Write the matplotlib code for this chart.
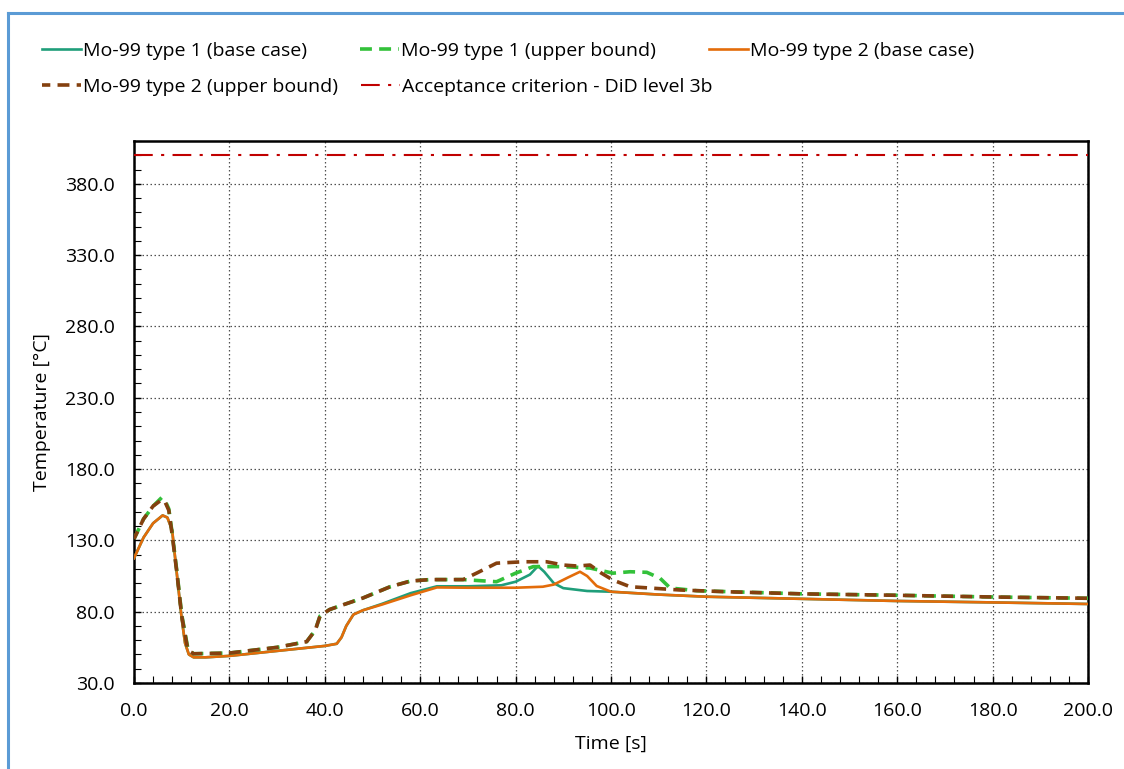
import numpy as np
import matplotlib.pyplot as plt
from matplotlib.lines import Line2D
from matplotlib.ticker import MultipleLocator, FormatStrFormatter

plt.rcParams['font.family'] = ['Open Sans', 'DejaVu Sans']

#%% Data
t_t1_base = [0, 2, 4, 6, 7, 8, 9, 10, 10.7, 11.5, 12.5, 15, 20, 30, 40, 42.5, 43.5, 44.5, 46, 48,
             52, 58, 63.5, 70, 77, 80, 83, 84.7, 86, 88, 90, 95, 100, 110, 120, 140, 160, 180, 200]
T_t1_base = [117.5, 132, 142, 147.5, 146, 137, 106, 75, 58, 50, 48, 48, 49, 52.5, 56, 57.5, 62, 70, 78, 81,
             85.5, 93, 97.8, 97.8, 98.5, 101, 106, 112, 108, 100, 96.5, 94.5, 94, 92, 90.5, 89, 87.5, 86.5, 85.4]

t_t2_base = [0, 2, 4, 6, 7, 8, 9, 10, 10.7, 11.5, 12.5, 15, 20, 30, 40, 42.5, 43.5, 44.5, 46, 48,
             52, 58, 63.5, 70, 80, 85.7, 88, 91, 93.5, 95, 97, 100, 110, 120, 140, 160, 180, 200]
T_t2_base = [117.5, 132, 142, 147.5, 146, 137, 106, 75, 58, 50, 48, 48, 49, 52.5, 56, 57.5, 62, 70, 78, 81,
             85, 91.5, 97, 96.8, 96.8, 97.5, 99, 104, 108, 105, 98, 94, 92, 90.5, 89, 87.5, 86.5, 85.4]

t_t1_upper = [0, 2, 4, 5.8, 6.5, 7.3, 8, 9, 10, 11.3, 12.5, 20, 30, 36.2, 38, 39, 41, 44, 48, 53.7, 58,
              62, 69, 76, 80, 83.7, 90, 95.6, 100.4, 104, 107.5, 110.3, 112.4, 118, 140, 160, 180, 200]
T_t1_upper = [131, 145, 154, 160, 158, 152, 135, 108, 78, 54, 50.5, 51, 55, 59, 67, 77, 81.5, 85, 89.6, 97.5, 101.5,
              102.5, 102.5, 101, 107, 111.6, 111.6, 110.6, 107, 108, 107.6, 103.4, 96.6, 94.7, 92.5, 91.5, 90.3, 89.4]

t_t2_upper = [0, 2, 4, 5.8, 6.5, 7.3, 8, 9, 10, 11.3, 12.5, 20, 30, 36.2, 38, 39, 41, 44, 48, 53.7, 58,
              62, 69, 71.8, 76, 81.6, 86.5, 90, 93, 95.6, 98, 100.4, 104, 114.5, 124, 140, 160, 180, 200]
T_t2_upper = [131, 145, 154, 158.5, 157, 151, 134, 107, 77, 53, 50.5, 51, 55, 59, 67, 77, 81.5, 85, 89.6, 97.5, 101.5,
              102.5, 102.5, 107, 114, 115, 115, 112.7, 112, 112.7, 107, 102.2, 97.5, 95.2, 94, 92.5, 91.5, 90.3, 89.4]

acceptance = 400.0

labels = ['Mo-99 type 1 (base case)', 'Mo-99 type 1 (upper bound)', 'Mo-99 type 2 (base case)',
          'Mo-99 type 2 (upper bound)', 'Acceptance criterion - DiD level 3b']

#%% Plot
c_teal = '#1f9e7a'
c_green = '#33c13a'
c_orange = '#e36c0a'
c_brown = '#84400f'
c_red = '#c00000'
fs = 14

fig = plt.figure(figsize=(11.24, 7.69), dpi=100)
ax = fig.add_axes([134/1124, 1 - 683/769, (1088 - 134)/1124, (683 - 141)/769])

l1, = ax.plot(t_t1_base, T_t1_base, color=c_teal, lw=1.9, zorder=3)
l2, = ax.plot(t_t1_upper, T_t1_upper, color=c_green, lw=2.6, linestyle=(0, (3.3, 2.0)), zorder=4)
l3, = ax.plot(t_t2_base, T_t2_base, color=c_orange, lw=1.9, zorder=3.5)
l4, = ax.plot(t_t2_upper, T_t2_upper, color=c_brown, lw=2.6, linestyle=(1.0, (3.3, 2.0)), zorder=5)
l5 = ax.axhline(acceptance, color=c_red, lw=1.5, linestyle=(0, (9, 4, 1.5, 4)), zorder=5)

ax.set_xlim(0, 200)
ax.set_ylim(30, 410)
ax.xaxis.set_major_locator(MultipleLocator(20))
ax.xaxis.set_minor_locator(MultipleLocator(4))
ax.yaxis.set_minor_locator(MultipleLocator(10))
ax.xaxis.set_major_formatter(FormatStrFormatter('%.1f'))
ax.yaxis.set_major_formatter(FormatStrFormatter('%.1f'))
ax.set_yticks(np.arange(30, 381, 50))

ax.tick_params(which='both', direction='in', labelsize=fs, colors='black')
ax.tick_params(which='major', length=5, width=1)
ax.tick_params(which='minor', length=5, width=0.8)
ax.tick_params(axis='y', pad=14)
ax.tick_params(axis='x', pad=14)
for s in ax.spines.values():
    s.set_linewidth(1.8)
    s.set_color('black')

ax.grid(which='major', color='#505050', linestyle=(0, (1.2, 2)), lw=0.9)
ax.set_xlabel('Time [s]', fontsize=fs, labelpad=10)
ax.set_ylabel('Temperature [°C]', fontsize=fs, labelpad=10)

# legend in two rows like the Excel one
leg1 = fig.legend([l1, l2, l3], labels[:3], ncol=3, loc='center left',
                  bbox_to_anchor=(42/1124, 1 - 51/769), frameon=False, fontsize=fs,
                  handlelength=2.0, handletextpad=0.1, columnspacing=2.75,
                  borderpad=0, borderaxespad=0)
leg2 = fig.legend([l4, l5], labels[3:], ncol=2, loc='center left',
                  bbox_to_anchor=(42/1124, 1 - 87/769), frameon=False, fontsize=fs,
                  handlelength=2.0, handletextpad=0.1, columnspacing=1.2,
                  borderpad=0, borderaxespad=0)

# blue chart-area border
fig.add_artist(Line2D([8/1124, 1], [1 - 13/769, 1 - 13/769], color='#5b9bd5', lw=2.2, transform=fig.transFigure))
fig.add_artist(Line2D([8/1124, 8/1124], [0, 1 - 13/769], color='#5b9bd5', lw=2.2, transform=fig.transFigure))

fig.savefig('out.png', dpi=100)
